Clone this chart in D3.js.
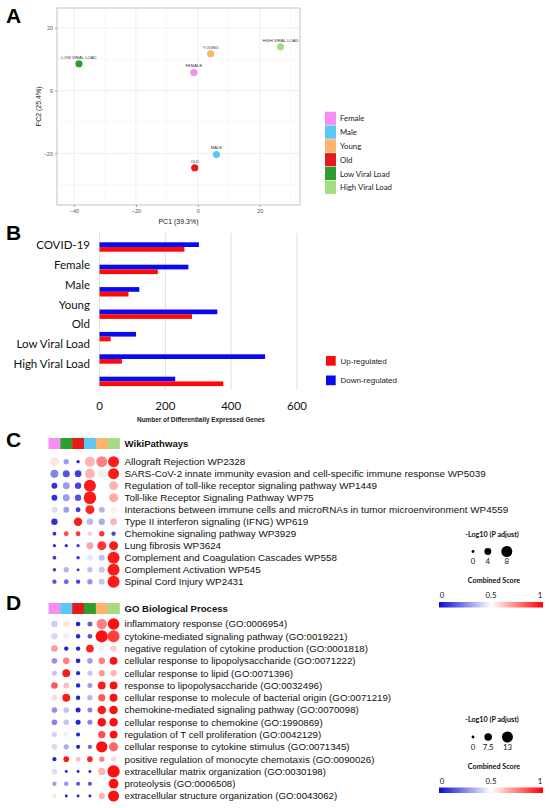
<!DOCTYPE html>
<html>
<head>
<meta charset="utf-8">
<script src="https://cdn.jsdelivr.net/npm/d3@7"></script>
<style>
  body { margin: 0; background: #fff; }
  svg { display: block; }
</style>
</head>
<body>
<div id="chart"></div>
<script>
// ---------- data ----------
// panel A: PCA
const groups = ['Female', 'Male', 'Young', 'Old', 'Low Viral Load', 'High Viral Load'];
const groupColors = ['#f78ef2', '#5cc7f5', '#fdb46c', '#e41a1c', '#2e9e2e', '#a7db81'];
const pcaX = [-1.3, 6, 4.1, -1, -38.4, 26.7];
const pcaY = [5.8, -20.4, 11.8, -24.6, 8.6, 14];
const pcaTicksX = [-40, -20, 0, 20];
const pcaTicksY = [-20, 0, 20];

// panel B: DEG counts
const degCategories = ['COVID-19', 'Female', 'Male', 'Young', 'Old', 'Low Viral Load', 'High Viral Load'];
const downRegulated = [302, 270, 121, 358, 111, 503, 230];
const upRegulated = [258, 177, 88, 281, 34, 68, 376];
const degTicks = [0, 200, 400, 600];

// panel C: WikiPathways
const wikiColumns = ['Female', 'Low Viral Load', 'Old', 'Male', 'Young', 'High Viral Load'];
const wikiTerms = [
    'Allograft Rejection WP2328',
    'SARS-CoV-2 innate immunity evasion and cell-specific immune response WP5039',
    'Regulation of toll-like receptor signaling pathway WP1449',
    'Toll-like Receptor Signaling Pathway WP75',
    'Interactions between immune cells and microRNAs in tumor microenvironment WP4559',
    'Type II interferon signaling (IFNG) WP619',
    'Chemokine signaling pathway WP3929',
    'Lung fibrosis WP3624',
    'Complement and Coagulation Cascades WP558',
    'Complement Activation WP545',
    'Spinal Cord Injury WP2431'
];
const wikiScore = [
    [0.55, 0.3, 0.05, 0.65, 0.75, 0.95],
    [0.25, 0.15, 0.1, 0.65, 0.47, 0.95],
    [0.08, 0.3, 0.12, 0.95, 0.5, 0.65],
    [0.08, 0.3, 0.15, 0.95, 0.5, 0.67],
    [0.43, 0.3, 0.1, 0.93, 0.35, 0.53],
    [0.08, 0.5, 0.95, 0.35, 0.33, 0.65],
    [0.08, 0.85, 0.9, 0.6, 0.9, 0.12],
    [0.08, 0.08, 0.1, 0.68, 0.9, 0.95],
    [0.1, 0.5, 0.1, 0.45, 0.37, 0.95],
    [0.1, 0.35, 0.1, 0.37, 0.38, 0.95],
    [0.15, 0.2, 0.12, 0.28, 0.38, 0.95]
];
const wikiLogP = [
    [6, 2.5, 0.5, 7, 8, 8],
    [5, 4.2, 3.8, 7, 6, 8],
    [3, 4, 3.5, 9, 5, 6],
    [3, 4, 3.5, 9.5, 5, 6],
    [3, 3, 2, 6, 3, 4],
    [3.5, 2, 5.5, 3.5, 3.5, 4],
    [1, 2, 2, 1.5, 2.5, 1.5],
    [0.5, 0.5, 0.5, 4, 6, 6],
    [1, 1, 0.8, 3, 3, 9],
    [0.7, 2.5, 0.2, 2.5, 3, 9],
    [1.5, 2, 1.5, 2.5, 3, 9]
];
const wikiSizeTicks = [0, 4, 8];

// panel D: GO Biological Process
const goColumns = ['Female', 'Male', 'Old', 'Low Viral Load', 'Young', 'High Viral Load'];
const goTerms = [
    'inflammatory response (GO:0006954)',
    'cytokine-mediated signaling pathway (GO:0019221)',
    'negative regulation of cytokine production (GO:0001818)',
    'cellular response to lipopolysaccharide (GO:0071222)',
    'cellular response to lipid (GO:0071396)',
    'response to lipopolysaccharide (GO:0032496)',
    'cellular response to molecule of bacterial origin (GO:0071219)',
    'chemokine-mediated signaling pathway (GO:0070098)',
    'cellular response to chemokine (GO:1990869)',
    'regulation of T cell proliferation (GO:0042129)',
    'cellular response to cytokine stimulus (GO:0071345)',
    'positive regulation of monocyte chemotaxis (GO:0090026)',
    'extracellular matrix organization (GO:0030198)',
    'proteolysis (GO:0006508)',
    'extracellular structure organization (GO:0043062)'
];
const goScore = [
    [0.4, 0.55, 0.05, 0.18, 0.75, 0.97],
    [0.42, 0.47, 0.05, 0.15, 0.97, 0.88],
    [0.7, 0.05, 0.05, 0.93, 0.47, 0.6],
    [0.28, 0.75, 0.05, 0.3, 0.75, 0.97],
    [0.38, 0.95, 0.05, 0.38, 0.7, 0.65],
    [0.83, 0.63, 0.05, 0.3, 0.95, 0.97],
    [0.57, 0.95, 0.05, 0.35, 0.82, 0.97],
    [0.28, 0.38, 0.05, 0.25, 0.95, 0.97],
    [0.25, 0.38, 0.05, 0.25, 0.97, 0.97],
    [0.4, 0.47, 0.05, 0.5, 0.85, 0.97],
    [0.42, 0.33, 0.05, 0.2, 0.97, 0.8],
    [0.05, 0.95, 0.62, 0.93, 0.75, 0.58],
    [0.43, 0.05, 0.05, 0.05, 0.65, 0.97],
    [0.3, 0.28, 0.15, 0.15, 0.5, 0.97],
    [0.55, 0.05, 0.05, 0.05, 0.65, 0.97]
];
const goLogP = [
    [6, 6, 3, 3.5, 12, 14],
    [6, 5, 2.5, 3, 15, 14.5],
    [6, 2.5, 2.5, 8, 5, 5.5],
    [4.5, 6, 3, 4.5, 6, 8],
    [3.5, 8, 2, 3.5, 5.5, 5.5],
    [6, 5, 2.5, 3.5, 8, 8],
    [5, 8, 2.5, 4, 7, 8],
    [4.5, 4.5, 3.5, 3.5, 9, 9],
    [4.5, 4.5, 3.5, 3.5, 9, 9],
    [3.5, 3.5, 2, 2, 7, 8],
    [4.5, 4, 2, 2.5, 13.5, 10],
    [2, 4.5, 3.5, 4.5, 4, 3.5],
    [4.5, 0.3, 0.3, 0.3, 7, 15],
    [2.5, 2.5, 2, 2, 2, 11],
    [2.5, 0.3, 0.3, 0.3, 5.5, 13]
];
const goSizeTicks = [0, 7.5, 13];
const scoreTicks = [0, 0.5, 1];

// ---------- setup ----------
const width = 550, height = 808;
const ARIAL = '"Liberation Sans", Arial, sans-serif';
const CALIBRI = 'Lato, "Open Sans", sans-serif';

const svg = d3.select('#chart').append('svg')
    .attr('width', width)
    .attr('height', height);
const defs = svg.append('defs');

const groupColor = d3.scaleOrdinal().domain(groups).range(groupColors);

function panelLabel(text, x, y) {
    svg.append('text')
        .attr('x', x).attr('y', y)
        .attr('font-family', ARIAL)
        .attr('font-weight', 'bold')
        .attr('font-size', 21)
        .text(text);
}

// =====================================================
// A: PCA scatter
// =====================================================
panelLabel('A', 6, 23);

const pa = { left: 57, right: 300, top: 8, bottom: 205 };
const xA = d3.scaleLinear().domain([-45.5, 33]).range([pa.left, pa.right]);
const yA = d3.scaleLinear().domain([-36.5, 26.4]).range([pa.bottom, pa.top]);

const gA = svg.append('g');
const minorX = pcaTicksX.map(t => t + 10).filter(t => t < xA.domain()[1]);
const minorY = [pcaTicksY[0] - 10].concat(pcaTicksY.map(t => t + 10)).filter(t => t < yA.domain()[1]);

gA.selectAll('.minor-x').data(minorX).enter().append('line')
    .attr('x1', d => xA(d)).attr('x2', d => xA(d))
    .attr('y1', pa.top).attr('y2', pa.bottom)
    .attr('stroke', '#f4f4f4').attr('stroke-width', 0.6);
gA.selectAll('.minor-y').data(minorY).enter().append('line')
    .attr('y1', d => yA(d)).attr('y2', d => yA(d))
    .attr('x1', pa.left).attr('x2', pa.right)
    .attr('stroke', '#f4f4f4').attr('stroke-width', 0.6);
gA.selectAll('.major-x').data(pcaTicksX).enter().append('line')
    .attr('x1', d => xA(d)).attr('x2', d => xA(d))
    .attr('y1', pa.top).attr('y2', pa.bottom)
    .attr('stroke', '#ebebeb').attr('stroke-width', 0.8);
gA.selectAll('.major-y').data(pcaTicksY).enter().append('line')
    .attr('y1', d => yA(d)).attr('y2', d => yA(d))
    .attr('x1', pa.left).attr('x2', pa.right)
    .attr('stroke', '#ebebeb').attr('stroke-width', 0.8);

gA.append('rect')
    .attr('x', pa.left).attr('y', pa.top)
    .attr('width', pa.right - pa.left).attr('height', pa.bottom - pa.top)
    .attr('fill', 'none').attr('stroke', '#b3b3b3').attr('stroke-width', 0.8);

const axA_x = gA.append('g')
    .attr('transform', `translate(0,${pa.bottom})`)
    .call(d3.axisBottom(xA).tickValues(pcaTicksX).tickSize(2).tickPadding(2));
const axA_y = gA.append('g')
    .attr('transform', `translate(${pa.left},0)`)
    .call(d3.axisLeft(yA).tickValues(pcaTicksY).tickSize(2).tickPadding(2));
[axA_x, axA_y].forEach(ax => {
    ax.select('.domain').remove();
    ax.selectAll('line').attr('stroke', '#555').attr('stroke-width', 0.5);
    ax.selectAll('text').attr('font-family', ARIAL).attr('font-size', 5.5).attr('fill', '#555');
});

gA.append('text')
    .attr('x', (pa.left + pa.right) / 2).attr('y', 224)
    .attr('text-anchor', 'middle')
    .attr('font-family', ARIAL).attr('font-size', 7).attr('fill', '#222')
    .text('PC1 (39.3%)');
gA.append('text')
    .attr('transform', `translate(40.5,${(pa.top + pa.bottom) / 2}) rotate(-90)`)
    .attr('text-anchor', 'middle')
    .attr('font-family', ARIAL).attr('font-size', 7).attr('fill', '#222')
    .text('PC2 (25.4%)');

const pcaPoints = groups.map((g, i) => ({ group: g, x: pcaX[i], y: pcaY[i] }));
gA.selectAll('.pca-pt').data(pcaPoints).enter().append('circle')
    .attr('cx', d => xA(d.x)).attr('cy', d => yA(d.y))
    .attr('r', 3.6)
    .attr('fill', d => groupColor(d.group));
gA.selectAll('.pca-lbl').data(pcaPoints).enter().append('text')
    .attr('x', d => xA(d.x)).attr('y', d => yA(d.y) - 5.2)
    .attr('text-anchor', 'middle')
    .attr('font-family', ARIAL).attr('font-size', 4.2).attr('fill', '#333')
    .text(d => d.group.toUpperCase());

// legend A
const legA = svg.append('g').attr('transform', 'translate(325,111.7)');
const legAItem = legA.selectAll('g').data(groups).enter().append('g')
    .attr('transform', (d, i) => `translate(0,${i * 13.8})`);
legAItem.append('rect')
    .attr('width', 11).attr('height', 13.2)
    .attr('fill', d => groupColor(d));
legAItem.append('text')
    .attr('x', 15).attr('y', 7).attr('dy', '0.35em')
    .attr('font-family', CALIBRI).attr('font-size', 7.8).attr('fill', '#222')
    .text(d => d);

// =====================================================
// B: DEG bars
// =====================================================
panelLabel('B', 6, 240);

const xB = d3.scaleLinear().domain([0, 600]).range([99.5, 297]);
const yB = d3.scaleBand().domain(degCategories)
    .range([235.8, 392.6]).paddingInner(0.58).paddingOuter(0.29);
const subB = d3.scaleBand().domain(['down', 'up']).range([0, yB.bandwidth()]);
const yLabelB = d3.scalePoint().domain(degCategories).range([245, 364]);

const gB = svg.append('g');
gB.selectAll('.grid-b').data(degTicks).enter().append('line')
    .attr('x1', d => xB(d)).attr('x2', d => xB(d))
    .attr('y1', 233).attr('y2', 390)
    .attr('stroke', '#d9d9d9').attr('stroke-width', 0.8);

const degRows = degCategories.map((c, i) => ({ cat: c, down: downRegulated[i], up: upRegulated[i] }));
gB.selectAll('.bar-down').data(degRows).enter().append('rect')
    .attr('x', xB(0)).attr('y', d => yB(d.cat) + subB('down'))
    .attr('width', d => xB(d.down) - xB(0)).attr('height', subB.bandwidth())
    .attr('fill', '#0a0af0');
gB.selectAll('.bar-up').data(degRows).enter().append('rect')
    .attr('x', xB(0)).attr('y', d => yB(d.cat) + subB('up'))
    .attr('width', d => xB(d.up) - xB(0)).attr('height', subB.bandwidth())
    .attr('fill', '#ff0a0a');

gB.selectAll('.cat-b').data(degCategories).enter().append('text')
    .attr('x', 90).attr('y', d => yLabelB(d)).attr('dy', '0.35em')
    .attr('text-anchor', 'end')
    .attr('font-family', CALIBRI).attr('font-size', 11.5).attr('fill', '#111')
    .text(d => d);

gB.selectAll('.tick-b').data(degTicks).enter().append('text')
    .attr('x', d => xB(d)).attr('y', 406).attr('dy', '0.35em')
    .attr('text-anchor', 'middle')
    .attr('font-family', CALIBRI).attr('font-size', 11.5).attr('fill', '#111')
    .text(d => d);

gB.append('text')
    .attr('x', 201).attr('y', 420).attr('dy', '0.35em')
    .attr('text-anchor', 'middle')
    .attr('font-family', ARIAL).attr('font-weight', 'bold').attr('font-size', 6.4).attr('fill', '#222')
    .text('Number of Differentially Expressed Genes');

const legB = svg.append('g').attr('transform', 'translate(326,356)');
const legBItems = [{ label: 'Up-regulated', color: '#ff0a0a' }, { label: 'Down-regulated', color: '#0a0af0' }];
const legBItem = legB.selectAll('g').data(legBItems).enter().append('g')
    .attr('transform', (d, i) => `translate(0,${i * 19.5})`);
legBItem.append('rect').attr('width', 9.7).attr('height', 9.7).attr('fill', d => d.color);
legBItem.append('text')
    .attr('x', 14.5).attr('y', 4.8).attr('dy', '0.35em')
    .attr('font-family', ARIAL).attr('font-size', 8).attr('fill', '#222')
    .text(d => d.label);

// =====================================================
// C & D: dot matrices
// =====================================================
const scoreColor = d3.scaleLinear().domain([0, 0.5, 1]).range(['#0a0ad2', '#ffffff', '#ff0000']);

function dotMatrix(opts) {
    const g = svg.append('g');
    const xCol = d3.scaleBand().domain(opts.columns).range([48.5, 119.5]);
    const yRow = d3.scalePoint().domain(opts.terms).range(opts.rowRange);
    const rSize = d3.scaleLinear().domain([0, opts.sizeTicks[opts.sizeTicks.length - 1]]).range([1.4, 5.5]);

    g.selectAll('.hdr').data(opts.columns).enter().append('rect')
        .attr('x', d => xCol(d)).attr('y', opts.headerY)
        .attr('width', xCol.bandwidth() + 0.3).attr('height', 11)
        .attr('fill', d => groupColor(d));

    g.append('text')
        .attr('x', 124.5).attr('y', opts.headerY + 5.5).attr('dy', '0.35em')
        .attr('font-family', ARIAL).attr('font-weight', 'bold').attr('font-size', 9.6).attr('fill', '#111')
        .text(opts.title);

    const cells = [];
    opts.terms.forEach((t, i) => {
        opts.columns.forEach((c, j) => {
            cells.push({ term: t, col: c, score: opts.score[i][j], logp: opts.logp[i][j] });
        });
    });
    g.selectAll('.dot').data(cells).enter().append('circle')
        .attr('cx', d => xCol(d.col) + xCol.bandwidth() / 2)
        .attr('cy', d => yRow(d.term))
        .attr('r', d => rSize(d.logp))
        .attr('fill', d => scoreColor(d.score));

    g.selectAll('.term').data(opts.terms).enter().append('text')
        .attr('x', 124.5).attr('y', d => yRow(d)).attr('dy', '0.35em')
        .attr('font-family', ARIAL).attr('font-size', opts.fontSize).attr('fill', '#111')
        .text(d => d);

    // size legend
    const ly = opts.legendY;
    g.append('text')
        .attr('x', 492).attr('y', ly).attr('dy', '0.35em')
        .attr('text-anchor', 'middle')
        .attr('font-family', CALIBRI).attr('font-weight', 'bold').attr('font-size', 7.2).attr('fill', '#111')
        .text('-Log10 (P adjust)');
    let cx = 473;
    const sizeItems = opts.sizeTicks.map((v, i) => {
        if (i > 0) cx += rSize(opts.sizeTicks[i - 1]) + 10 + rSize(v);
        return { v, x: cx };
    });
    g.selectAll('.size-dot').data(sizeItems).enter().append('circle')
        .attr('cx', d => d.x).attr('cy', ly + 17.5)
        .attr('r', d => rSize(d.v)).attr('fill', '#000');
    g.selectAll('.size-lbl').data(sizeItems).enter().append('text')
        .attr('x', d => d.x).attr('y', ly + 27.5).attr('dy', '0.35em')
        .attr('text-anchor', 'middle')
        .attr('font-family', CALIBRI).attr('font-size', 7.8).attr('fill', '#111')
        .text(d => d.v);

    // colour legend
    g.append('text')
        .attr('x', 494).attr('y', ly + 46.5).attr('dy', '0.35em')
        .attr('text-anchor', 'middle')
        .attr('font-family', CALIBRI).attr('font-weight', 'bold').attr('font-size', 7.2).attr('fill', '#111')
        .text('Combined Score');
    const xBar = d3.scaleLinear().domain([0, 1]).range([439, 543]);
    const xTick = d3.scaleLinear().domain([0, 1]).range([442, 540]);
    g.selectAll('.score-tick').data(scoreTicks).enter().append('text')
        .attr('x', d => xTick(d)).attr('y', ly + 61.5).attr('dy', '0.35em')
        .attr('text-anchor', 'middle')
        .attr('font-family', CALIBRI).attr('font-size', 7.8).attr('fill', '#111')
        .text(d => d);
    g.append('rect')
        .attr('x', xBar(0)).attr('y', ly + 68)
        .attr('width', xBar(1) - xBar(0)).attr('height', 5.5)
        .attr('fill', 'url(#score-grad)');
}

const grad = defs.append('linearGradient').attr('id', 'score-grad');
grad.selectAll('stop').data(d3.range(0, 1.01, 0.1)).enter().append('stop')
    .attr('offset', d => `${d * 100}%`)
    .attr('stop-color', d => scoreColor(d));

panelLabel('C', 6, 447);
dotMatrix({
    columns: wikiColumns, terms: wikiTerms, score: wikiScore, logp: wikiLogP,
    sizeTicks: wikiSizeTicks, title: 'WikiPathways', fontSize: 9.9,
    headerY: 438, rowRange: [461.7, 581.7], legendY: 534
});

panelLabel('D', 6, 610);
dotMatrix({
    columns: goColumns, terms: goTerms, score: goScore, logp: goLogP,
    sizeTicks: goSizeTicks, title: 'GO Biological Process', fontSize: 9.7,
    headerY: 603, rowRange: [624, 796], legendY: 719.5
});
</script>
</body>
</html>
